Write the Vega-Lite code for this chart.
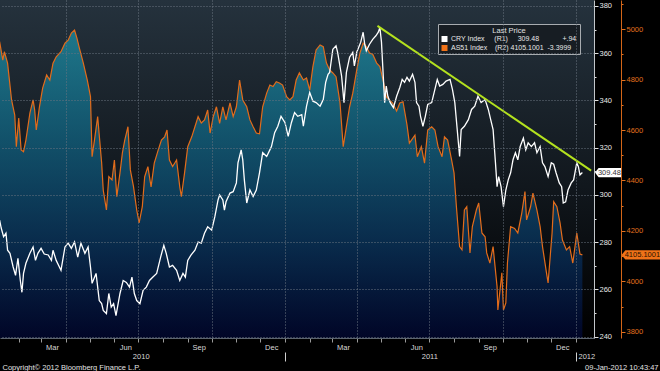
{
  "$schema": "https://vega.github.io/schema/vega-lite/v6.json",
  "width": 594,
  "height": 338,
  "autosize": {"type": "none"},
  "padding": {"left": 0, "top": 0, "right": 66, "bottom": 33},
  "background": "#000000",
  "config": {
    "font": "Liberation Sans",
    "view": {
      "stroke": null,
      "fill": {"gradient": "linear", "x1": 0, "y1": 0, "x2": 0, "y2": 1,
        "stops": [{"offset": 0, "color": "#25323d"}, {"offset": 0.55, "color": "#11171d"}, {"offset": 1, "color": "#000000"}]}
    }
  },
  "datasets": {
    "cry": [
      {"date": "2010-01-08", "CRY": 289.4}, {"date": "2010-01-10", "CRY": 286.0}, {"date": "2010-01-13", "CRY": 282.3}, {"date": "2010-01-16", "CRY": 283.8},
      {"date": "2010-01-18", "CRY": 276.6}, {"date": "2010-01-21", "CRY": 275.3}, {"date": "2010-01-25", "CRY": 269.5}, {"date": "2010-01-28", "CRY": 266.0},
      {"date": "2010-01-31", "CRY": 273.2}, {"date": "2010-02-03", "CRY": 263.8}, {"date": "2010-02-05", "CRY": 258.8}, {"date": "2010-02-07", "CRY": 266.8},
      {"date": "2010-02-10", "CRY": 271.1}, {"date": "2010-02-15", "CRY": 275.3}, {"date": "2010-02-19", "CRY": 278.0}, {"date": "2010-02-22", "CRY": 272.3},
      {"date": "2010-02-25", "CRY": 275.3}, {"date": "2010-03-01", "CRY": 277.4}, {"date": "2010-03-05", "CRY": 275.0}, {"date": "2010-03-10", "CRY": 274.6},
      {"date": "2010-03-14", "CRY": 272.3}, {"date": "2010-03-16", "CRY": 276.6}, {"date": "2010-03-20", "CRY": 272.3}, {"date": "2010-03-24", "CRY": 269.5},
      {"date": "2010-03-26", "CRY": 268.1}, {"date": "2010-03-31", "CRY": 278.0}, {"date": "2010-04-04", "CRY": 279.6}, {"date": "2010-04-08", "CRY": 277.4},
      {"date": "2010-04-12", "CRY": 280.1}, {"date": "2010-04-16", "CRY": 273.7}, {"date": "2010-04-20", "CRY": 279.6}, {"date": "2010-04-25", "CRY": 275.3},
      {"date": "2010-04-29", "CRY": 278.0}, {"date": "2010-05-02", "CRY": 269.5}, {"date": "2010-05-04", "CRY": 262.6}, {"date": "2010-05-09", "CRY": 266.8},
      {"date": "2010-05-13", "CRY": 255.3}, {"date": "2010-05-16", "CRY": 254.0}, {"date": "2010-05-18", "CRY": 251.1}, {"date": "2010-05-22", "CRY": 249.8},
      {"date": "2010-05-25", "CRY": 258.3}, {"date": "2010-05-28", "CRY": 252.5}, {"date": "2010-05-31", "CRY": 254.0}, {"date": "2010-06-03", "CRY": 248.9},
      {"date": "2010-06-08", "CRY": 258.3}, {"date": "2010-06-12", "CRY": 263.8}, {"date": "2010-06-16", "CRY": 263.0}, {"date": "2010-06-20", "CRY": 261.0},
      {"date": "2010-06-23", "CRY": 265.2}, {"date": "2010-06-26", "CRY": 258.3}, {"date": "2010-06-29", "CRY": 255.3}, {"date": "2010-07-03", "CRY": 254.0},
      {"date": "2010-07-07", "CRY": 259.6}, {"date": "2010-07-11", "CRY": 261.0}, {"date": "2010-07-15", "CRY": 263.8}, {"date": "2010-07-19", "CRY": 265.2},
      {"date": "2010-07-24", "CRY": 266.8}, {"date": "2010-07-29", "CRY": 273.7}, {"date": "2010-08-02", "CRY": 278.7}, {"date": "2010-08-05", "CRY": 275.3},
      {"date": "2010-08-09", "CRY": 269.5}, {"date": "2010-08-13", "CRY": 270.2}, {"date": "2010-08-18", "CRY": 268.1}, {"date": "2010-08-22", "CRY": 263.8},
      {"date": "2010-08-26", "CRY": 266.8}, {"date": "2010-08-29", "CRY": 265.2}, {"date": "2010-09-01", "CRY": 272.3}, {"date": "2010-09-05", "CRY": 274.5},
      {"date": "2010-09-10", "CRY": 276.6}, {"date": "2010-09-14", "CRY": 280.1}, {"date": "2010-09-18", "CRY": 279.6}, {"date": "2010-09-22", "CRY": 283.8},
      {"date": "2010-09-26", "CRY": 286.5}, {"date": "2010-10-01", "CRY": 285.1}, {"date": "2010-10-05", "CRY": 290.8}, {"date": "2010-10-09", "CRY": 297.9},
      {"date": "2010-10-11", "CRY": 300.0}, {"date": "2010-10-15", "CRY": 297.9}, {"date": "2010-10-17", "CRY": 293.6}, {"date": "2010-10-19", "CRY": 297.1},
      {"date": "2010-10-24", "CRY": 300.8}, {"date": "2010-10-28", "CRY": 301.4}, {"date": "2010-11-01", "CRY": 305.1}, {"date": "2010-11-03", "CRY": 313.6},
      {"date": "2010-11-05", "CRY": 316.3}, {"date": "2010-11-07", "CRY": 319.1}, {"date": "2010-11-09", "CRY": 314.9}, {"date": "2010-11-11", "CRY": 306.4},
      {"date": "2010-11-14", "CRY": 296.6}, {"date": "2010-11-18", "CRY": 302.1}, {"date": "2010-11-22", "CRY": 299.3}, {"date": "2010-11-26", "CRY": 302.1},
      {"date": "2010-11-30", "CRY": 309.4}, {"date": "2010-12-04", "CRY": 317.9}, {"date": "2010-12-09", "CRY": 316.3}, {"date": "2010-12-13", "CRY": 319.1},
      {"date": "2010-12-15", "CRY": 320.5}, {"date": "2010-12-19", "CRY": 326.4}, {"date": "2010-12-23", "CRY": 329.1}, {"date": "2010-12-27", "CRY": 333.3},
      {"date": "2011-01-01", "CRY": 330.6}, {"date": "2011-01-05", "CRY": 324.8}, {"date": "2011-01-09", "CRY": 330.6}, {"date": "2011-01-13", "CRY": 334.9},
      {"date": "2011-01-17", "CRY": 333.3}, {"date": "2011-01-22", "CRY": 334.0}, {"date": "2011-01-24", "CRY": 329.1}, {"date": "2011-01-28", "CRY": 337.6},
      {"date": "2011-02-01", "CRY": 343.4}, {"date": "2011-02-05", "CRY": 339.7}, {"date": "2011-02-09", "CRY": 339.1}, {"date": "2011-02-14", "CRY": 337.6},
      {"date": "2011-02-18", "CRY": 340.4}, {"date": "2011-02-21", "CRY": 347.7}, {"date": "2011-02-24", "CRY": 351.1}, {"date": "2011-02-26", "CRY": 351.9},
      {"date": "2011-03-02", "CRY": 361.7}, {"date": "2011-03-06", "CRY": 363.1}, {"date": "2011-03-08", "CRY": 360.4}, {"date": "2011-03-13", "CRY": 350.3},
      {"date": "2011-03-16", "CRY": 339.1}, {"date": "2011-03-19", "CRY": 351.9}, {"date": "2011-03-23", "CRY": 358.3}, {"date": "2011-03-27", "CRY": 360.4},
      {"date": "2011-03-29", "CRY": 354.6}, {"date": "2011-04-01", "CRY": 360.4}, {"date": "2011-04-06", "CRY": 364.7}, {"date": "2011-04-09", "CRY": 368.9},
      {"date": "2011-04-11", "CRY": 363.8}, {"date": "2011-04-13", "CRY": 361.0}, {"date": "2011-04-17", "CRY": 363.8}, {"date": "2011-04-21", "CRY": 365.9},
      {"date": "2011-04-25", "CRY": 367.4}, {"date": "2011-04-28", "CRY": 368.9}, {"date": "2011-04-30", "CRY": 370.9}, {"date": "2011-05-02", "CRY": 364.7},
      {"date": "2011-05-04", "CRY": 351.9}, {"date": "2011-05-06", "CRY": 339.1}, {"date": "2011-05-08", "CRY": 346.1}, {"date": "2011-05-10", "CRY": 341.8},
      {"date": "2011-05-13", "CRY": 339.1}, {"date": "2011-05-17", "CRY": 337.0}, {"date": "2011-05-21", "CRY": 341.8}, {"date": "2011-05-25", "CRY": 345.5},
      {"date": "2011-05-28", "CRY": 348.9}, {"date": "2011-05-31", "CRY": 347.7}, {"date": "2011-06-03", "CRY": 349.8}, {"date": "2011-06-06", "CRY": 348.2},
      {"date": "2011-06-10", "CRY": 351.1}, {"date": "2011-06-13", "CRY": 347.7}, {"date": "2011-06-15", "CRY": 339.1}, {"date": "2011-06-18", "CRY": 337.6},
      {"date": "2011-06-20", "CRY": 333.3}, {"date": "2011-06-23", "CRY": 329.1}, {"date": "2011-06-26", "CRY": 333.3}, {"date": "2011-06-29", "CRY": 338.3},
      {"date": "2011-07-04", "CRY": 339.1}, {"date": "2011-07-08", "CRY": 344.7}, {"date": "2011-07-11", "CRY": 348.9}, {"date": "2011-07-14", "CRY": 346.1},
      {"date": "2011-07-18", "CRY": 346.8}, {"date": "2011-07-22", "CRY": 348.2}, {"date": "2011-07-27", "CRY": 348.9}, {"date": "2011-07-30", "CRY": 344.7},
      {"date": "2011-08-02", "CRY": 339.1}, {"date": "2011-08-05", "CRY": 327.7}, {"date": "2011-08-08", "CRY": 316.3}, {"date": "2011-08-10", "CRY": 327.7},
      {"date": "2011-08-14", "CRY": 329.1}, {"date": "2011-08-19", "CRY": 331.9}, {"date": "2011-08-23", "CRY": 336.2}, {"date": "2011-08-27", "CRY": 337.6},
      {"date": "2011-08-31", "CRY": 341.8}, {"date": "2011-09-04", "CRY": 339.1}, {"date": "2011-09-09", "CRY": 340.4}, {"date": "2011-09-13", "CRY": 336.2},
      {"date": "2011-09-16", "CRY": 331.9}, {"date": "2011-09-19", "CRY": 327.7}, {"date": "2011-09-22", "CRY": 313.6}, {"date": "2011-09-24", "CRY": 303.5},
      {"date": "2011-09-26", "CRY": 307.8}, {"date": "2011-09-29", "CRY": 303.5}, {"date": "2011-10-02", "CRY": 295.0}, {"date": "2011-10-05", "CRY": 302.1},
      {"date": "2011-10-08", "CRY": 306.4}, {"date": "2011-10-11", "CRY": 309.4}, {"date": "2011-10-14", "CRY": 314.9}, {"date": "2011-10-17", "CRY": 317.9},
      {"date": "2011-10-20", "CRY": 314.9}, {"date": "2011-10-23", "CRY": 320.5}, {"date": "2011-10-27", "CRY": 324.1}, {"date": "2011-10-30", "CRY": 319.1},
      {"date": "2011-11-02", "CRY": 322.1}, {"date": "2011-11-06", "CRY": 320.5}, {"date": "2011-11-10", "CRY": 322.1}, {"date": "2011-11-13", "CRY": 317.9},
      {"date": "2011-11-17", "CRY": 320.5}, {"date": "2011-11-20", "CRY": 313.6}, {"date": "2011-11-23", "CRY": 312.0}, {"date": "2011-11-27", "CRY": 307.8},
      {"date": "2011-12-01", "CRY": 313.6}, {"date": "2011-12-04", "CRY": 313.0}, {"date": "2011-12-07", "CRY": 309.4}, {"date": "2011-12-11", "CRY": 305.1},
      {"date": "2011-12-14", "CRY": 303.5}, {"date": "2011-12-16", "CRY": 296.6}, {"date": "2011-12-19", "CRY": 297.1}, {"date": "2011-12-22", "CRY": 302.1},
      {"date": "2011-12-26", "CRY": 305.1}, {"date": "2011-12-29", "CRY": 306.4}, {"date": "2012-01-02", "CRY": 313.6}, {"date": "2012-01-04", "CRY": 312.0},
      {"date": "2012-01-06", "CRY": 308.5}, {"date": "2012-01-09", "CRY": 309.48}
    ],
    "as51": [
      {"date": "2010-01-08", "AS51": 4950}, {"date": "2010-01-12", "AS51": 4877}, {"date": "2010-01-14", "AS51": 4910}, {"date": "2010-01-18", "AS51": 4865},
      {"date": "2010-01-23", "AS51": 4719}, {"date": "2010-01-27", "AS51": 4659}, {"date": "2010-01-29", "AS51": 4534}, {"date": "2010-02-01", "AS51": 4647},
      {"date": "2010-02-04", "AS51": 4521}, {"date": "2010-02-07", "AS51": 4514}, {"date": "2010-02-10", "AS51": 4560}, {"date": "2010-02-15", "AS51": 4667},
      {"date": "2010-02-19", "AS51": 4719}, {"date": "2010-02-21", "AS51": 4679}, {"date": "2010-02-23", "AS51": 4600}, {"date": "2010-02-27", "AS51": 4692},
      {"date": "2010-03-03", "AS51": 4766}, {"date": "2010-03-08", "AS51": 4818}, {"date": "2010-03-12", "AS51": 4798}, {"date": "2010-03-16", "AS51": 4865},
      {"date": "2010-03-20", "AS51": 4890}, {"date": "2010-03-26", "AS51": 4910}, {"date": "2010-03-31", "AS51": 4944}, {"date": "2010-04-04", "AS51": 4956},
      {"date": "2010-04-08", "AS51": 4984}, {"date": "2010-04-12", "AS51": 4996}, {"date": "2010-04-15", "AS51": 4964}, {"date": "2010-04-18", "AS51": 4925},
      {"date": "2010-04-23", "AS51": 4865}, {"date": "2010-04-28", "AS51": 4798}, {"date": "2010-05-02", "AS51": 4732}, {"date": "2010-05-04", "AS51": 4494},
      {"date": "2010-05-07", "AS51": 4560}, {"date": "2010-05-11", "AS51": 4653}, {"date": "2010-05-16", "AS51": 4469}, {"date": "2010-05-18", "AS51": 4362},
      {"date": "2010-05-22", "AS51": 4283}, {"date": "2010-05-25", "AS51": 4415}, {"date": "2010-05-29", "AS51": 4402}, {"date": "2010-06-01", "AS51": 4481},
      {"date": "2010-06-04", "AS51": 4336}, {"date": "2010-06-08", "AS51": 4430}, {"date": "2010-06-11", "AS51": 4509}, {"date": "2010-06-14", "AS51": 4560},
      {"date": "2010-06-18", "AS51": 4613}, {"date": "2010-06-21", "AS51": 4442}, {"date": "2010-06-25", "AS51": 4375}, {"date": "2010-06-29", "AS51": 4283},
      {"date": "2010-07-02", "AS51": 4232}, {"date": "2010-07-06", "AS51": 4296}, {"date": "2010-07-09", "AS51": 4415}, {"date": "2010-07-13", "AS51": 4455},
      {"date": "2010-07-17", "AS51": 4375}, {"date": "2010-07-21", "AS51": 4469}, {"date": "2010-07-26", "AS51": 4521}, {"date": "2010-07-30", "AS51": 4560},
      {"date": "2010-08-03", "AS51": 4573}, {"date": "2010-08-06", "AS51": 4600}, {"date": "2010-08-09", "AS51": 4481}, {"date": "2010-08-13", "AS51": 4455},
      {"date": "2010-08-18", "AS51": 4481}, {"date": "2010-08-22", "AS51": 4375}, {"date": "2010-08-24", "AS51": 4336}, {"date": "2010-08-28", "AS51": 4430},
      {"date": "2010-09-01", "AS51": 4534}, {"date": "2010-09-06", "AS51": 4573}, {"date": "2010-09-10", "AS51": 4613}, {"date": "2010-09-14", "AS51": 4653},
      {"date": "2010-09-18", "AS51": 4628}, {"date": "2010-09-22", "AS51": 4640}, {"date": "2010-09-26", "AS51": 4679}, {"date": "2010-09-29", "AS51": 4588},
      {"date": "2010-10-03", "AS51": 4653}, {"date": "2010-10-07", "AS51": 4692}, {"date": "2010-10-11", "AS51": 4626}, {"date": "2010-10-15", "AS51": 4692},
      {"date": "2010-10-19", "AS51": 4640}, {"date": "2010-10-24", "AS51": 4707}, {"date": "2010-10-28", "AS51": 4653}, {"date": "2010-11-01", "AS51": 4692},
      {"date": "2010-11-05", "AS51": 4798}, {"date": "2010-11-09", "AS51": 4719}, {"date": "2010-11-14", "AS51": 4692}, {"date": "2010-11-18", "AS51": 4640},
      {"date": "2010-11-22", "AS51": 4613}, {"date": "2010-11-26", "AS51": 4588}, {"date": "2010-11-30", "AS51": 4585}, {"date": "2010-12-04", "AS51": 4692},
      {"date": "2010-12-09", "AS51": 4746}, {"date": "2010-12-13", "AS51": 4778}, {"date": "2010-12-17", "AS51": 4772}, {"date": "2010-12-21", "AS51": 4791},
      {"date": "2010-12-25", "AS51": 4786}, {"date": "2010-12-29", "AS51": 4778}, {"date": "2011-01-03", "AS51": 4732}, {"date": "2011-01-07", "AS51": 4719},
      {"date": "2011-01-11", "AS51": 4732}, {"date": "2011-01-15", "AS51": 4798}, {"date": "2011-01-19", "AS51": 4826}, {"date": "2011-01-24", "AS51": 4798},
      {"date": "2011-01-28", "AS51": 4806}, {"date": "2011-02-01", "AS51": 4758}, {"date": "2011-02-05", "AS51": 4851}, {"date": "2011-02-09", "AS51": 4917},
      {"date": "2011-02-14", "AS51": 4937}, {"date": "2011-02-18", "AS51": 4930}, {"date": "2011-02-22", "AS51": 4865}, {"date": "2011-02-26", "AS51": 4838},
      {"date": "2011-03-02", "AS51": 4826}, {"date": "2011-03-06", "AS51": 4811}, {"date": "2011-03-11", "AS51": 4707}, {"date": "2011-03-15", "AS51": 4534},
      {"date": "2011-03-19", "AS51": 4613}, {"date": "2011-03-23", "AS51": 4692}, {"date": "2011-03-27", "AS51": 4746}, {"date": "2011-04-01", "AS51": 4838},
      {"date": "2011-04-05", "AS51": 4905}, {"date": "2011-04-09", "AS51": 4944}, {"date": "2011-04-13", "AS51": 4930}, {"date": "2011-04-17", "AS51": 4905},
      {"date": "2011-04-21", "AS51": 4900}, {"date": "2011-04-26", "AS51": 4865}, {"date": "2011-04-30", "AS51": 4851}, {"date": "2011-05-04", "AS51": 4798},
      {"date": "2011-05-08", "AS51": 4732}, {"date": "2011-05-12", "AS51": 4719}, {"date": "2011-05-16", "AS51": 4707}, {"date": "2011-05-21", "AS51": 4675},
      {"date": "2011-05-25", "AS51": 4707}, {"date": "2011-05-29", "AS51": 4712}, {"date": "2011-06-03", "AS51": 4620}, {"date": "2011-06-06", "AS51": 4548},
      {"date": "2011-06-13", "AS51": 4580}, {"date": "2011-06-16", "AS51": 4494}, {"date": "2011-06-21", "AS51": 4534}, {"date": "2011-06-25", "AS51": 4469},
      {"date": "2011-06-29", "AS51": 4600}, {"date": "2011-07-04", "AS51": 4613}, {"date": "2011-07-08", "AS51": 4600}, {"date": "2011-07-12", "AS51": 4534},
      {"date": "2011-07-17", "AS51": 4494}, {"date": "2011-07-20", "AS51": 4573}, {"date": "2011-07-24", "AS51": 4560}, {"date": "2011-07-29", "AS51": 4481},
      {"date": "2011-08-01", "AS51": 4430}, {"date": "2011-08-04", "AS51": 4296}, {"date": "2011-08-08", "AS51": 4138}, {"date": "2011-08-11", "AS51": 4125},
      {"date": "2011-08-14", "AS51": 4283}, {"date": "2011-08-17", "AS51": 4296}, {"date": "2011-08-21", "AS51": 4113}, {"date": "2011-08-24", "AS51": 4217},
      {"date": "2011-08-29", "AS51": 4283}, {"date": "2011-09-01", "AS51": 4311}, {"date": "2011-09-05", "AS51": 4192}, {"date": "2011-09-09", "AS51": 4177},
      {"date": "2011-09-11", "AS51": 4113}, {"date": "2011-09-15", "AS51": 4073}, {"date": "2011-09-19", "AS51": 4138}, {"date": "2011-09-24", "AS51": 3979},
      {"date": "2011-09-25", "AS51": 3887}, {"date": "2011-09-30", "AS51": 4034}, {"date": "2011-10-02", "AS51": 3887}, {"date": "2011-10-05", "AS51": 3915},
      {"date": "2011-10-07", "AS51": 4073}, {"date": "2011-10-11", "AS51": 4217}, {"date": "2011-10-16", "AS51": 4210}, {"date": "2011-10-20", "AS51": 4192},
      {"date": "2011-10-25", "AS51": 4271}, {"date": "2011-10-29", "AS51": 4356}, {"date": "2011-10-31", "AS51": 4244}, {"date": "2011-11-05", "AS51": 4296},
      {"date": "2011-11-08", "AS51": 4350}, {"date": "2011-11-13", "AS51": 4283}, {"date": "2011-11-17", "AS51": 4217}, {"date": "2011-11-20", "AS51": 4138},
      {"date": "2011-11-25", "AS51": 4034}, {"date": "2011-11-27", "AS51": 3994}, {"date": "2011-12-02", "AS51": 4192}, {"date": "2011-12-04", "AS51": 4316},
      {"date": "2011-12-08", "AS51": 4296}, {"date": "2011-12-12", "AS51": 4232}, {"date": "2011-12-15", "AS51": 4164}, {"date": "2011-12-20", "AS51": 4125},
      {"date": "2011-12-24", "AS51": 4138}, {"date": "2011-12-28", "AS51": 4073}, {"date": "2012-01-02", "AS51": 4192}, {"date": "2012-01-06", "AS51": 4108.5},
      {"date": "2012-01-09", "AS51": 4105.1001}
    ],
    "trend": [{"date": "2011-04-27", "CRY": 371.6}, {"date": "2012-01-20", "CRY": 310.3}],
    "cryLast": [{"date": "2012-01-09", "CRY": 309.48}],
    "asLast": [{"date": "2012-01-09", "AS51": 4105.1001}]
  },
  "layer": [
    {
      "encoding": {
        "x": {
          "field": "date", "type": "temporal",
          "scale": {"domain": [{"year": 2010, "month": 1, "date": 8, "hours": 12}, {"year": 2012, "month": 1, "date": 23, "hours": 14}]},
          "axis": {
            "orient": "bottom", "zindex": 1,
            "tickCount": {"interval": "month", "step": 1},
            "labelExpr": "indexof([2,5,8,11], month(datum.value)) >= 0 ? timeFormat(datum.value, '%b') : ''",
            "labelOffset": 11, "labelPadding": 1, "labelFontSize": 7.5, "labelColor": "#d8d8d8",
            "labelOverlap": false, "labelFlush": false, "labelBound": false,
            "tickSize": 4, "tickColor": "#9a9a9a",
            "domain": true, "domainColor": "#5d6570",
            "grid": true, "gridDash": [1, 2], "gridColor": "#6b7580",
            "gridOpacity": {"condition": {"test": "month(datum.value) % 3 == 0", "value": 1}, "value": 0},
            "title": "Copyright\u00a9 2012 Bloomberg Finance L.P.", "titleX": 2, "titleY": 29, "titleAlign": "left",
            "titleBaseline": "middle", "titleFontSize": 7.5, "titleFontWeight": "normal", "titleColor": "#e2e2e2"
          }
        },
        "y": {
          "field": "AS51", "type": "quantitative", "stack": null,
          "scale": {"domain": [3776, 5115], "zero": false, "nice": false},
          "axis": {
            "orient": "right", "offset": 27, "title": null, "format": "d",
            "values": [3800, 3900, 4000, 4100, 4200, 4300, 4400, 4500, 4600, 4700, 4800, 4900, 5000, 5100],
            "labelExpr": "datum.value % 200 == 0 ? datum.label : ''",
            "labelColor": "#e2711f", "labelFontSize": 7.5, "labelPadding": 1, "labelOverlap": false, "labelFlush": false,
            "tickColor": "#e2711f",
            "tickSize": {"condition": {"test": "datum.value % 200 == 0", "value": 4}, "value": 2},
            "domainColor": "#d36618", "grid": false
          }
        }
      },
      "layer": [
        {
          "data": {"name": "as51"},
          "mark": {
            "type": "area",
            "color": {"gradient": "linear", "x1": 0, "y1": 0, "x2": 0, "y2": 1,
              "stops": [{"offset": 0, "color": "#1d97ae"}, {"offset": 0.35, "color": "#106888"}, {"offset": 0.7, "color": "#083663"}, {"offset": 1, "color": "#010838"}]},
            "line": {"color": "#e36c1b", "strokeWidth": 1.2}
          }
        },
        {
          "data": {"name": "asLast"},
          "mark": {"type": "point", "shape": "M-1,0L-0.8,-0.24L1,-0.24L1,0.24L-0.8,0.24Z", "size": 1521, "filled": true, "opacity": 1, "strokeWidth": 0, "xOffset": 58.6},
          "encoding": {"color": {"datum": "AS51 Index\u00a0\u00a0\u00a0\u00a0(R2)\u00a04105.1001\u00a0\u00a0-3.3999", "type": "nominal"}}
        },
        {
          "data": {"name": "asLast"},
          "mark": {"type": "text", "xOffset": 60, "fontSize": 7.5, "color": "#2a1200", "align": "center", "baseline": "middle"},
          "encoding": {"text": {"field": "AS51", "type": "quantitative", "format": ".4f"}}
        }
      ]
    },
    {
      "encoding": {
        "x": {
          "field": "date", "type": "temporal",
          "scale": {"domain": [{"year": 2010, "month": 1, "date": 8, "hours": 12}, {"year": 2012, "month": 1, "date": 23, "hours": 14}]},
          "axis": {
            "orient": "bottom", "offset": 14, "zindex": 1,
            "values": [{"year": 2010, "month": 7, "date": 4}, {"year": 2011, "month": 1, "date": 1}, {"year": 2011, "month": 7, "date": 1}, {"year": 2012, "month": 1, "date": 1}, {"year": 2012, "month": 1, "date": 14}],
            "labelExpr": "date(datum.value) == 1 && month(datum.value) == 0 ? '' : timeFormat(datum.value, '%Y')",
            "tickSize": 9, "tickColor": "#cfcfcf",
            "tickOpacity": {"condition": {"test": "date(datum.value) == 1 && month(datum.value) == 0", "value": 1}, "value": 0},
            "labelPadding": -9, "labelFontSize": 7.5, "labelColor": "#d8d8d8",
            "labelOverlap": false, "labelFlush": false, "labelBound": false,
            "domain": false, "grid": false,
            "title": "09-Jan-2012 10:43:47", "titleX": 658, "titleY": 15, "titleAlign": "right",
            "titleBaseline": "middle", "titleFontSize": 7.5, "titleFontWeight": "normal", "titleColor": "#e2e2e2"
          }
        },
        "y": {
          "field": "CRY", "type": "quantitative",
          "scale": {"domain": [239.45, 382.54], "zero": false, "nice": false},
          "axis": {
            "orient": "right", "offset": 0, "title": null, "zindex": 1,
            "values": [240, 250, 260, 270, 280, 290, 300, 310, 320, 330, 340, 350, 360, 370, 380],
            "labelExpr": "datum.value % 20 == 0 ? datum.label : ''",
            "labelColor": "#e8e8e8", "labelFontSize": 7.5, "labelPadding": 1, "labelOverlap": false, "labelFlush": false,
            "tickColor": "#e0e0e0",
            "tickSize": {"condition": {"test": "datum.value % 20 == 0", "value": 4}, "value": 2},
            "domainColor": "#c2c6ca",
            "grid": true, "gridDash": [1, 2], "gridColor": "#6b7580",
            "gridOpacity": {"condition": {"test": "datum.value % 20 == 0", "value": 1}, "value": 0}
          }
        }
      },
      "layer": [
        {
          "data": {"name": "cry"},
          "mark": {"type": "line", "color": "#ffffff", "strokeWidth": 1.3}
        },
        {
          "data": {"name": "trend"},
          "mark": {"type": "line", "color": "#b4e21e", "strokeWidth": 2}
        },
        {
          "data": {"name": "cryLast"},
          "mark": {"type": "point", "shape": "M-1,0L-0.72,-0.35L1,-0.35L1,0.35L-0.72,0.35Z", "size": 676, "filled": true, "opacity": 1, "strokeWidth": 0, "xOffset": 25.6},
          "encoding": {
            "color": {
              "datum": "CRY Index\u00a0\u00a0\u00a0\u00a0\u00a0(R1)\u00a0\u00a0\u00a0\u00a0\u00a0309.48\u00a0\u00a0\u00a0\u00a0\u00a0\u00a0\u00a0\u00a0\u00a0\u00a0\u00a0\u00a0+.94",
              "type": "nominal",
              "scale": {
                "domain": ["CRY Index\u00a0\u00a0\u00a0\u00a0\u00a0(R1)\u00a0\u00a0\u00a0\u00a0\u00a0309.48\u00a0\u00a0\u00a0\u00a0\u00a0\u00a0\u00a0\u00a0\u00a0\u00a0\u00a0\u00a0+.94", "AS51 Index\u00a0\u00a0\u00a0\u00a0(R2)\u00a04105.1001\u00a0\u00a0-3.3999"],
                "range": ["#ffffff", "#f07218"]
              },
              "legend": {
                "title": "Last Price", "orient": "none", "legendX": 438, "legendY": 24, "direction": "vertical",
                "symbolType": "square", "symbolSize": 36, "symbolStrokeWidth": 0,
                "labelFontSize": 7, "labelColor": "#e8e8e8", "labelLimit": 400, "labelOffset": 3,
                "titleFontSize": 7.5, "titleFontWeight": "normal", "titleColor": "#e0e0e0", "titleAnchor": "middle", "titlePadding": 1,
                "padding": 3, "rowPadding": 1, "fillColor": "#171d23", "strokeColor": "#a8acb0"
              }
            }
          }
        },
        {
          "data": {"name": "cryLast"},
          "mark": {"type": "text", "xOffset": 27, "fontSize": 7.5, "color": "#333333", "align": "center", "baseline": "middle"},
          "encoding": {"text": {"field": "CRY", "type": "quantitative", "format": ".2f"}}
        }
      ]
    }
  ],
  "resolve": {"scale": {"y": "independent"}, "axis": {"x": "independent", "y": "independent"}}
}
